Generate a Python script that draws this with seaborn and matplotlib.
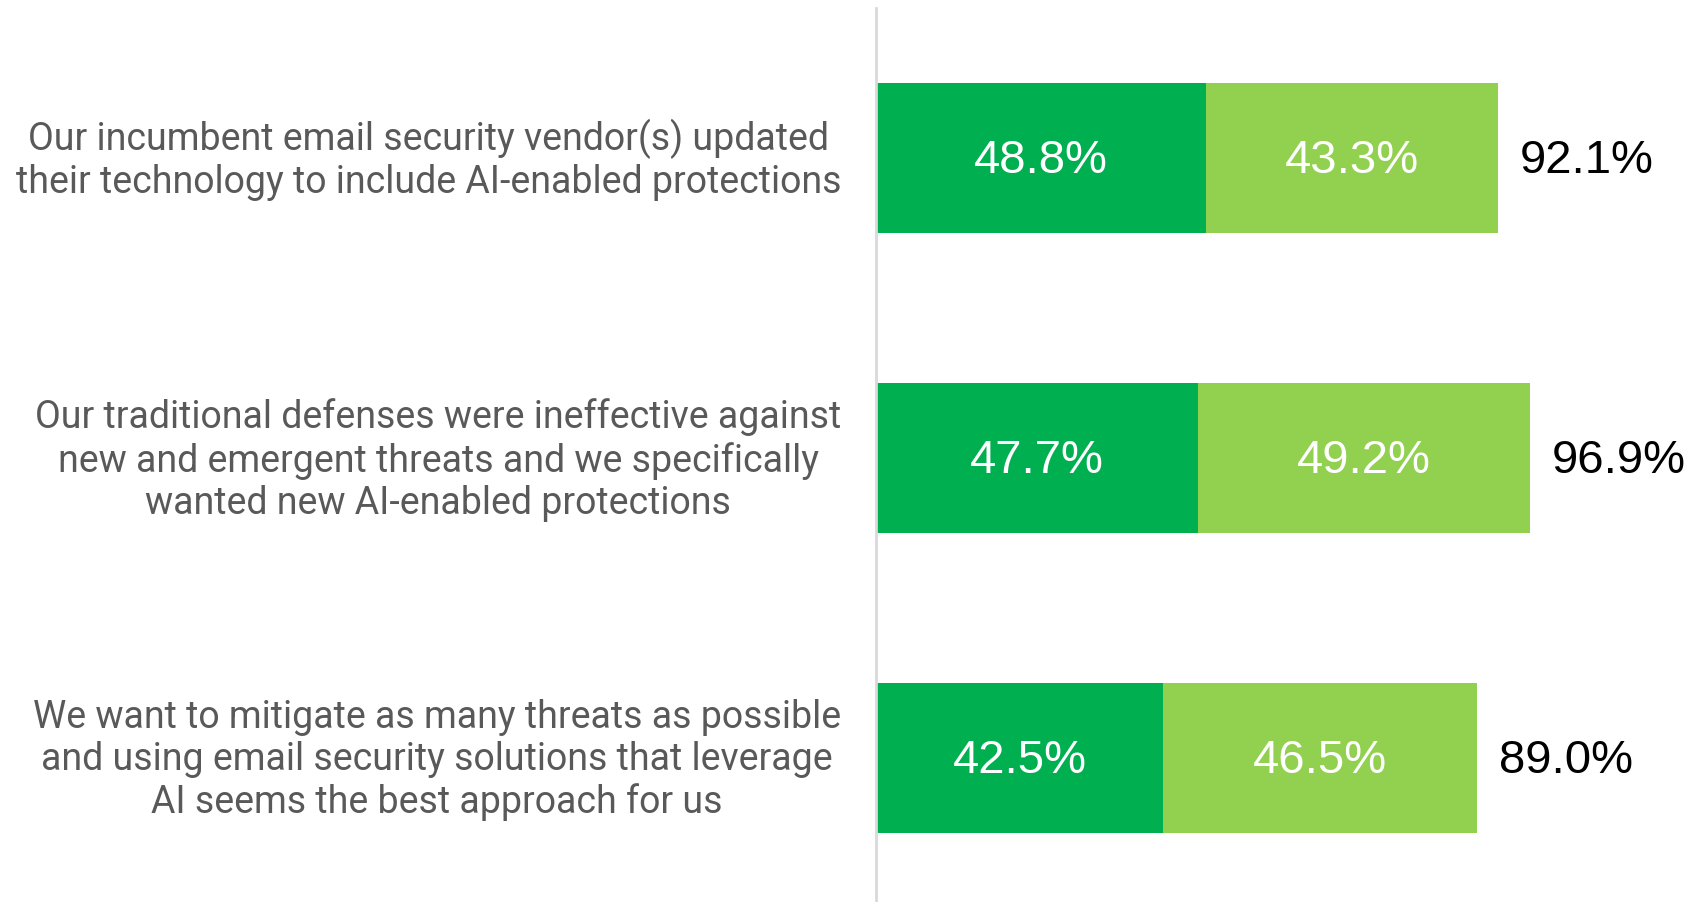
import matplotlib
matplotlib.use("Agg")
import matplotlib.pyplot as plt
import matplotlib.transforms as mtransforms
import seaborn as sns
import pandas as pd

categories = [
    "Our incumbent email security vendor(s) updated\ntheir technology to include AI-enabled protections",
    "Our traditional defenses were ineffective against\nnew and emergent threats and we specifically\nwanted new AI-enabled protections",
    "We want to mitigate as many threats as possible\nand using email security solutions that leverage\nAI seems the best approach for us",
]
strongly_agree = [48.8, 47.7, 42.5]
agree = [43.3, 49.2, 46.5]
totals = [92.1, 96.9, 89.0]

DARK = "#00B050"
LIGHT = "#92D050"

sns.set_theme(style="white")
plt.rcParams["font.family"] = ["Roboto", "DejaVu Sans"]

df = pd.DataFrame({"cat": categories, "dark": strongly_agree, "total": totals})

W, H = 1693, 903
fig = plt.figure(figsize=(W / 100, H / 100), dpi=100)
ax = fig.add_axes([876 / W, 0, (W - 876) / W, (H - 8.5) / H])

# light segment spans the full total; dark segment drawn over its first part
sns.barplot(data=df, x="total", y="cat", color=LIGHT, width=0.5, ax=ax,
            saturation=1, orient="h", edgecolor="none")
sns.barplot(data=df, x="dark", y="cat", color=DARK, width=0.5, ax=ax,
            saturation=1, orient="h", edgecolor="none")

ax.set_xlim(0, 121)
ax.set_ylim(-0.5 + (H - 8.5) / 300, -0.5)
ax.set_xlabel("")
ax.set_ylabel("")
ax.set_xticks([])

num_font = ["Liberation Sans", "DejaVu Sans"]
dy = 0.008
for i, (d, a, t) in enumerate(zip(strongly_agree, agree, totals)):
    ax.text(d / 2, i + dy, f"{d:.1f}%", ha="center", va="center", color="white",
            fontsize=34, family=num_font)
    ax.text(d + a / 2, i + dy, f"{a:.1f}%", ha="center", va="center", color="white",
            fontsize=34, family=num_font)
    ax.text(t + 3.2, i + dy, f"{t:.1f}%", ha="left", va="center", color="black",
            fontsize=34, family=num_font)

ax.tick_params(axis="y", length=0, pad=25, labelsize=27, labelcolor="#595959")
lift = mtransforms.ScaledTranslation(0, 5 / 100, fig.dpi_scale_trans)
for lbl in ax.get_yticklabels():
    lbl.set_multialignment("center")
    lbl.set_linespacing(1.18)
    lbl.set_transform(lbl.get_transform() + lift)

for s in ["top", "right", "bottom"]:
    ax.spines[s].set_visible(False)
ax.spines["left"].set_color("#D9D9D9")
ax.spines["left"].set_linewidth(2)

fig.savefig("out.png", dpi=100, facecolor="white")
